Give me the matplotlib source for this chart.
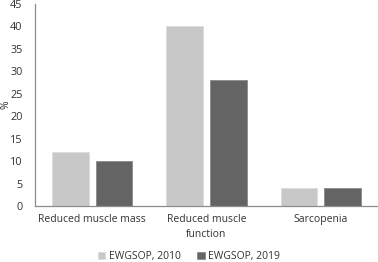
import numpy as np
import matplotlib.pyplot as plt

# --- Data ---
categories = ["Reduced muscle mass", "Reduced muscle\nfunction", "Sarcopenia"]
ewgsop_2010 = [12, 40, 4]
ewgsop_2019 = [10, 28, 4]
yticks = [0, 5, 10, 15, 20, 25, 30, 35, 40, 45]

plt.rcParams['font.family'] = ['Open Sans', 'DejaVu Sans']

fig = plt.figure(figsize=(3.78, 2.62), dpi=100)
ax = fig.add_axes([35 / 378, 1 - 206 / 262, 343 / 378, 202 / 262])

x = np.arange(len(categories))
w = 0.32
ax.bar(x - 0.19, ewgsop_2010, w, color='#c8c8c8', edgecolor='#dcdcdc', linewidth=0.6,
       label='EWGSOP, 2010')
ax.bar(x + 0.19, ewgsop_2019, w, color='#646464', edgecolor='#8a8a8a', linewidth=0.6,
       label='EWGSOP, 2019')

ax.set_xlim(-0.5, 2.5)
ax.set_ylim(0, 45)
ax.set_yticks(yticks)
ax.set_xticks(x)
ax.set_xticklabels(categories, fontsize=7.5, color='#333333', linespacing=1.45)
ax.tick_params(axis='y', labelsize=7.8, labelcolor='#333333', length=0, pad=9)
ax.tick_params(axis='x', length=0, pad=6)
ax.set_ylabel('%', fontsize=7.5, color='#333333')
ax.yaxis.set_label_coords(-0.068, 0.5)

for s in ['top', 'right']:
    ax.spines[s].set_visible(False)
for s in ['left', 'bottom']:
    ax.spines[s].set_color('#8c8c8c')
    ax.spines[s].set_linewidth(0.9)

fig.legend(loc='lower center', bbox_to_anchor=(0.5, -0.035), ncol=2, frameon=False,
           fontsize=7.5, handlelength=0.7, handleheight=0.7, handletextpad=0.35,
           columnspacing=1.6, labelcolor='#333333')

fig.savefig('out.png', dpi=100)
